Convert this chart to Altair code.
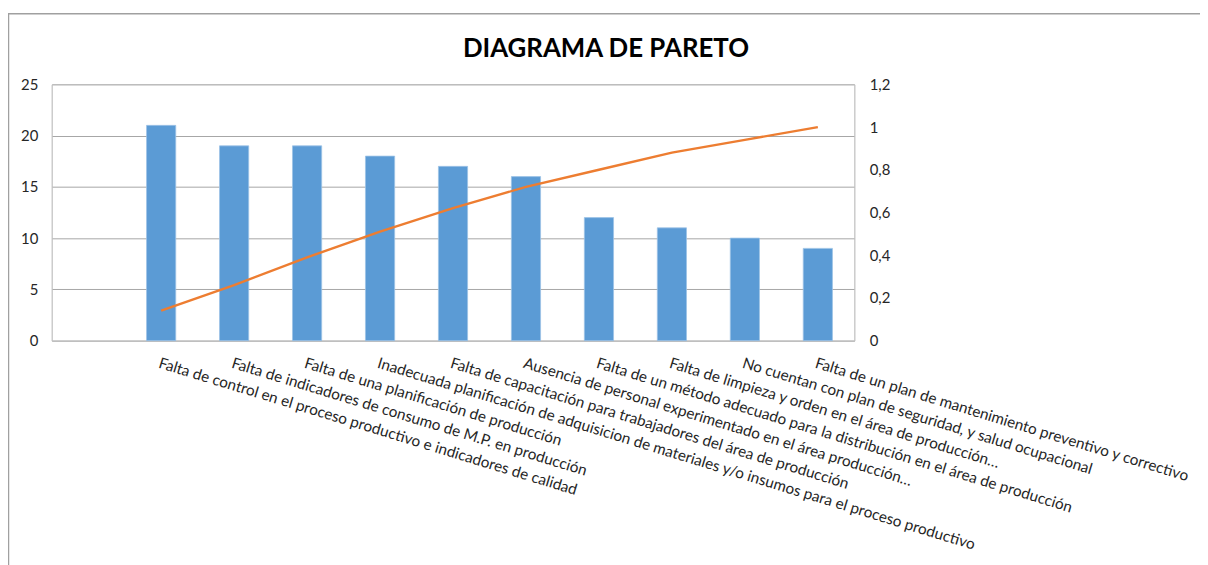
import altair as alt
import pandas as pd

categories = [
    "Falta de control en el proceso productivo e indicadores de calidad",
    "Falta de indicadores de consumo de M.P. en producción",
    "Falta de una planificación de producción",
    "Inadecuada planificación de adquisicion de materiales y/o insumos para el proceso productivo",
    "Falta de capacitación para trabajadores del área de producción",
    "Ausencia de personal experimentado en el área producción…",
    "Falta de un método adecuado para la distribución en el área de producción",
    "Falta de limpieza y orden en el área de producción…",
    "No cuentan con plan de seguridad, y salud ocupacional",
    "Falta de un plan de mantenimiento preventivo y correctivo",
]
frecuencia = [21, 19, 19, 18, 17, 16, 12, 11, 10, 9]
acumulado = [0.14, 0.26, 0.39, 0.51, 0.62, 0.72, 0.80, 0.88, 0.94, 1.0]
left_ticks = [0, 5, 10, 15, 20, 25]
right_ticks = [0, 0.2, 0.4, 0.6, 0.8, 1, 1.2]
titulo = "DIAGRAMA DE PARETO"

df = pd.DataFrame({"causa": categories, "frecuencia": frecuencia, "acumulado": acumulado})
domain = [""] + categories

FONT = "Lato"
GRID = "#A6A6A6"
DOMAIN = "#BFBFBF"

x_enc = alt.X(
    "causa:N",
    sort=domain,
    scale=alt.Scale(domain=domain, paddingInner=0.6, paddingOuter=0.3),
    axis=alt.Axis(
        title=None,
        labelAngle=17,
        labelAlign="left",
        labelBaseline="top",
        labelPadding=15,
        ticks=False,
        labelLimit=0,
        labelFont=FONT,
        labelFontSize=15.4,
        labelColor="#262626",
        domainColor=DOMAIN,
        grid=False,
        labelOverlap=False,
    ),
)

bars = alt.Chart(df).mark_bar(color="#5B9BD5", stroke="#9DC3E6", strokeWidth=0.8).encode(
    x=x_enc,
    y=alt.Y(
        "frecuencia:Q",
        scale=alt.Scale(domain=[0, 25], nice=False),
        axis=alt.Axis(
            title=None,
            values=left_ticks,
            ticks=False,
            labelPadding=14,
            labelFont=FONT,
            labelFontSize=15,
            labelColor="#262626",
            gridColor=GRID,
            gridWidth=1,
            domainColor=DOMAIN,
        ),
    ),
)

line = alt.Chart(df).mark_line(color="#ED7D31", strokeWidth=2.4).encode(
    x=alt.X("causa:N", sort=domain),
    y=alt.Y(
        "acumulado:Q",
        scale=alt.Scale(domain=[0, 1.2], nice=False),
        axis=alt.Axis(
            title=None,
            orient="right",
            values=right_ticks,
            ticks=False,
            grid=False,
            labelPadding=15,
            labelFont=FONT,
            labelFontSize=15,
            labelColor="#262626",
            domainColor=DOMAIN,
            labelExpr="replace(format(datum.value, '~g'), '.', ',')",
        ),
    ),
)

frame = alt.Chart(alt.Data(values=[{}])).mark_rect(
    fill="transparent", stroke="#A0A0A0", strokeWidth=1.5
).encode(
    x=alt.value(-43.5), x2=alt.value(1200), y=alt.value(-71), y2=alt.value(600)
)

title = alt.Chart(alt.Data(values=[{"t": titulo}])).mark_text(
    font=FONT, fontSize=26, fontWeight="bold", color="#000000",
    align="center", baseline="alphabetic",
).encode(text="t:N", x=alt.value(558), y=alt.value(-28))

chart = (
    alt.layer(bars, line, frame, title)
    .resolve_scale(y="independent")
    .properties(
        width=808,
        height=258,
        autosize=alt.AutoSizeParams(type="none"),
        padding={"left": 44, "top": 75, "right": 348, "bottom": 224},
    )
    .configure_view(stroke=None)
    .configure(background="white")
)

chart.save("out.html", embed_options={"renderer": "svg", "actions": False})
